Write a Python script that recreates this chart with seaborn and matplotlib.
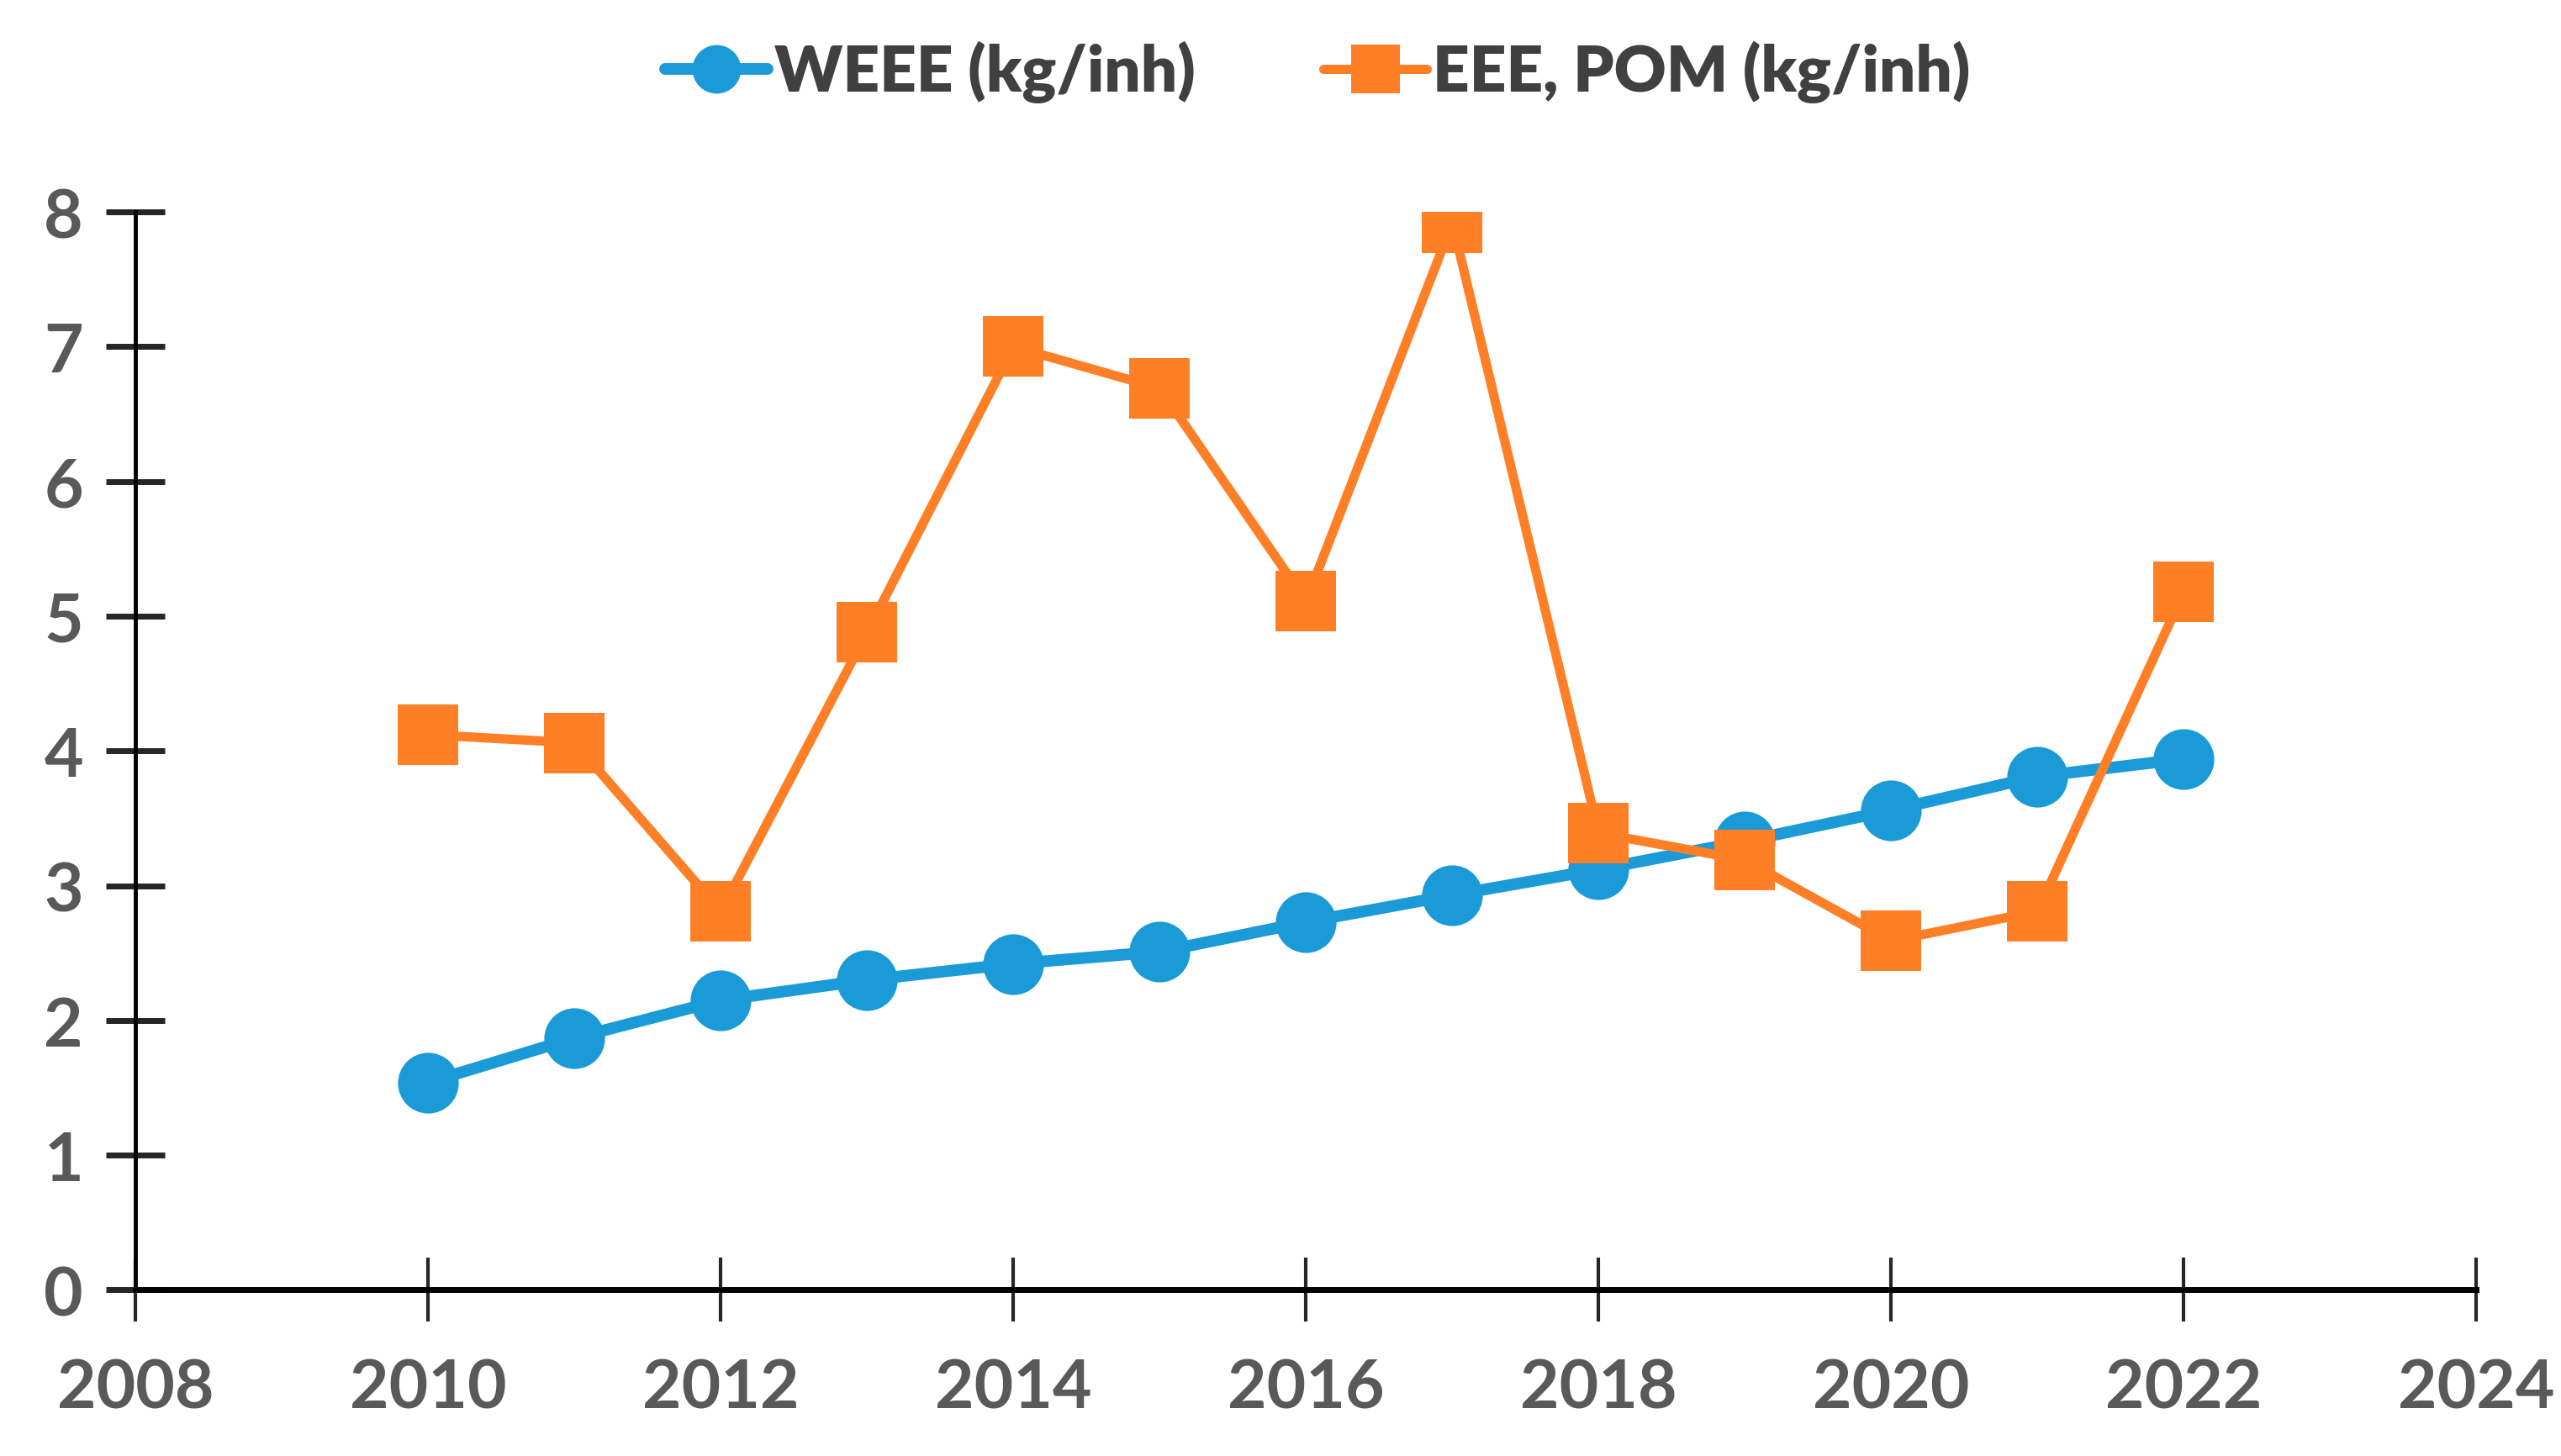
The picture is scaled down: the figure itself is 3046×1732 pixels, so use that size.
import matplotlib
matplotlib.use("Agg")
import matplotlib.pyplot as plt
import seaborn as sns
import pandas as pd

years = [2010, 2011, 2012, 2013, 2014, 2015, 2016, 2017, 2018, 2019, 2020, 2021, 2022]
weee = [1.54, 1.87, 2.15, 2.30, 2.42, 2.51, 2.73, 2.93, 3.12, 3.33, 3.56, 3.81, 3.94]
eee_pom = [4.12, 4.06, 2.81, 4.88, 7.00, 6.69, 5.11, 7.92, 3.39, 3.19, 2.59, 2.81, 5.18]
labels = ["WEEE (kg/inh)", "EEE, POM (kg/inh)"]

sns.set_style("white")
plt.rcParams['font.family'] = ['Lato', 'DejaVu Sans']

df = pd.DataFrame({"year": years, labels[0]: weee, labels[1]: eee_pom})

fig = plt.figure(figsize=(30.46, 17.33), dpi=100)
ax = fig.add_axes([0.053, 0.114, 0.914, 0.74])

sns.lineplot(data=df, x="year", y=labels[0], ax=ax, color="#1a9bd7", lw=10,
             marker="o", markersize=52, markeredgewidth=0, label=labels[0])
sns.lineplot(data=df, x="year", y=labels[1], ax=ax, color="#ff7f27", lw=8,
             marker="s", markersize=52, markeredgewidth=0, label=labels[1])

ax.set_xlim(2008, 2024)
ax.set_ylim(0, 8)
ax.set_xticks(range(2008, 2025, 2))
ax.set_yticks(range(0, 9))
ax.set_xlabel("")
ax.set_ylabel("")

for s in ["top", "right"]:
    ax.spines[s].set_visible(False)
ax.spines["left"].set_linewidth(3.5)
ax.spines["bottom"].set_linewidth(5)
ax.spines["left"].set_color("black")
ax.spines["bottom"].set_color("black")

ax.tick_params(axis="y", direction="inout", length=50, width=5, labelsize=58,
               labelcolor="#595959", pad=20, left=True)
ax.tick_params(axis="x", direction="inout", length=55, width=3, labelsize=58,
               labelcolor="#595959", pad=30, bottom=True)
for t in ax.get_xticklabels() + ax.get_yticklabels():
    t.set_fontweight("bold")

leg = ax.legend(loc="center", bbox_to_anchor=(0.505, 1.13), ncol=2, frameon=False,
                prop={"size": 55, "weight": "bold"}, handlelength=1.6, columnspacing=2.0,
                handletextpad=0.1, markerscale=0.8)
for t in leg.get_texts():
    t.set_color("#404040")
    t.set_fontweight("heavy")

fig.savefig("out.png", dpi=100)
